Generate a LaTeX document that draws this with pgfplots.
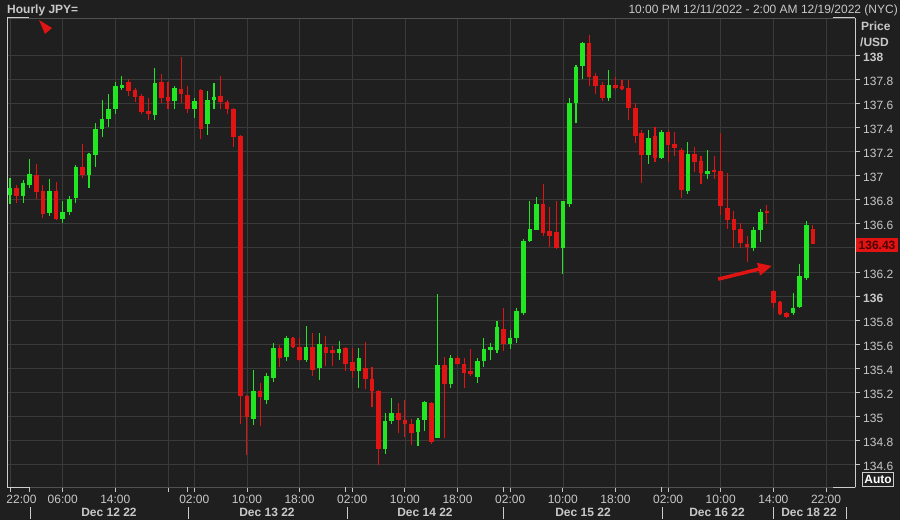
\documentclass[border=0pt]{standalone}
\usepackage{pgfplots}
\pgfplotsset{compat=1.18}
\usepackage{pgfplotstable}
\usepackage{fontspec}
\setmainfont{Liberation Sans}
\usetikzlibrary{arrows.meta}

\definecolor{bgc}{RGB}{31,31,31}
\definecolor{gridc}{RGB}{58,58,58}
\definecolor{framec}{RGB}{80,80,80}
\definecolor{lightc}{RGB}{205,205,205}
\definecolor{textc}{RGB}{200,200,200}
\definecolor{upg}{RGB}{34,230,34}
\definecolor{dnr}{RGB}{225,20,20}
\definecolor{boxtext}{RGB}{80,0,0}
\newcommand\ff{\fontsize{12}{14}\selectfont}

% hourly candles: index (hours from Dec 11 22:00 on the chart axis), open, high, low, close
\pgfplotstableread{
i o h l c
0 136.84 136.98 136.76 136.90
2 136.83 136.96 136.77 136.94
3 136.92 137.14 136.90 137.01
6 136.69 136.97 136.66 136.87
8 136.64 136.79 136.61 136.70
9 136.70 136.83 136.67 136.81
10 136.81 137.09 136.77 137.07
12 137.00 137.19 136.90 137.18
13 137.17 137.44 137.07 137.39
14 137.39 137.63 137.32 137.47
15 137.47 137.68 137.40 137.55
16 137.55 137.78 137.51 137.74
17 137.73 137.83 137.71 137.75
22 137.50 137.89 137.46 137.77
25 137.62 137.74 137.55 137.73
28 137.55 137.64 137.48 137.62
30 137.43 137.70 137.34 137.63
31 137.63 137.77 137.55 137.65
37 134.98 135.39 134.93 135.21
39 135.14 135.36 135.10 135.34
40 135.32 135.61 135.29 135.57
42 135.49 135.67 135.46 135.65
45 135.47 135.75 135.45 135.58
47 135.40 135.69 135.30 135.60
50 135.53 135.63 135.47 135.56
53 135.38 135.57 135.24 135.49
57 134.73 135.03 134.69 134.96
58 134.96 135.15 134.94 135.03
62 134.87 134.99 134.76 134.97
63 134.97 135.13 134.88 135.12
65 134.82 136.02 134.82 135.43
67 135.27 135.51 135.24 135.49
71 135.33 135.49 135.28 135.46
72 135.46 135.65 135.41 135.56
73 135.55 135.61 135.47 135.58
74 135.55 135.79 135.53 135.74
76 135.60 135.72 135.56 135.65
77 135.65 135.90 135.61 135.88
78 135.86 136.47 135.84 136.46
79 136.46 136.79 136.45 136.56
80 136.55 136.82 136.55 136.76
84 136.40 136.79 136.18 136.79
85 136.76 137.64 136.74 137.60
86 137.60 137.92 137.44 137.90
87 137.91 138.11 137.80 138.10
91 137.64 137.88 137.62 137.75
97 137.17 137.38 137.10 137.31
99 137.15 137.38 137.14 137.36
103 136.87 137.28 136.85 137.18
106 137.01 137.21 136.97 137.04
113 136.40 136.57 136.37 136.55
114 136.55 136.72 136.45 136.70
119 135.86 136.03 135.84 135.90
120 135.91 136.27 135.90 136.17
121 136.15 136.62 136.13 136.59
}\upcandles

\pgfplotstableread{
i o h l c
1 136.90 136.92 136.77 136.83
4 137.00 137.10 136.81 136.86
5 136.87 136.92 136.65 136.68
7 136.87 136.95 136.63 136.64
11 137.07 137.26 136.98 137.00
18 137.78 137.80 137.66 137.70
19 137.71 137.73 137.61 137.65
20 137.66 137.68 137.51 137.53
21 137.54 137.64 137.46 137.51
23 137.78 137.84 137.60 137.64
24 137.65 137.78 137.55 137.62
26 137.72 137.98 137.60 137.68
27 137.67 137.74 137.52 137.55
29 137.71 137.72 137.30 137.39
32 137.66 137.83 137.55 137.61
33 137.61 137.63 137.51 137.55
34 137.55 137.56 137.24 137.32
35 137.33 137.34 134.94 135.17
36 135.17 135.18 134.68 135.00
38 135.21 135.28 134.92 135.16
41 135.57 135.59 135.41 135.49
43 135.65 135.66 135.57 135.58
44 135.58 135.65 135.46 135.47
46 135.58 135.69 135.34 135.39
48 135.58 135.67 135.42 135.53
49 135.55 135.59 135.42 135.53
51 135.57 135.58 135.38 135.44
52 135.45 135.57 135.32 135.38
54 135.40 135.62 135.23 135.31
55 135.31 135.41 135.08 135.21
56 135.21 135.22 134.60 134.73
59 135.03 135.11 134.86 134.97
60 134.97 135.14 134.83 134.94
61 134.94 134.98 134.76 134.86
64 135.11 135.12 134.77 134.79
66 135.43 135.49 134.82 135.27
68 135.49 135.50 135.43 135.44
69 135.44 135.49 135.24 135.36
70 135.38 135.56 135.34 135.35
75 135.73 135.90 135.54 135.60
81 136.76 136.93 136.50 136.52
82 136.54 136.74 136.41 136.50
83 136.53 136.79 136.39 136.40
88 138.10 138.17 137.74 137.82
89 137.83 137.85 137.68 137.74
90 137.75 137.78 137.62 137.64
92 137.75 137.82 137.71 137.73
93 137.74 137.79 137.71 137.72
94 137.73 137.79 137.46 137.56
95 137.56 137.60 137.27 137.33
96 137.35 137.38 136.94 137.17
98 137.33 137.40 137.11 137.15
100 137.36 137.38 137.11 137.25
101 137.26 137.36 137.16 137.23
102 137.21 137.23 136.81 136.88
104 137.18 137.24 137.03 137.11
105 137.12 137.16 136.93 137.02
107 137.05 137.16 136.97 137.03
108 137.04 137.35 136.67 136.75
109 136.73 137.02 136.56 136.63
110 136.64 136.71 136.40 136.55
111 136.56 136.61 136.40 136.44
112 136.43 136.50 136.28 136.41
115 136.71 136.76 136.60 136.69
116 136.04 136.05 135.90 135.94
117 135.95 135.96 135.84 135.85
118 135.86 135.87 135.82 135.83
122 136.56 136.59 136.43 136.43
}\downcandles

\pgfplotsset{
  wick/.style={draw=none, forget plot, error bars/.cd, y dir=both, y explicit,
    error mark=none, error bar style={draw=#1, line width=1.1pt}},
  body/.style={draw=none, forget plot, error bars/.cd, y dir=both, y explicit,
    error mark=none, error bar style={draw=#1, line width=4.6pt}},
}

\begin{document}
\begin{tikzpicture}
\useasboundingbox (0,0) rectangle (900pt,520pt);
\fill[bgc] (0,0) rectangle (900pt,520pt);

\begin{axis}[
  at={(7pt,33pt)}, anchor=south west,
  scale only axis, width=848pt, height=469pt,
  xmin=-0.46, xmax=128.4,
  ymin=134.415, ymax=138.307,
  axis line style={draw=framec, line width=0.8pt},
  axis background/.style={fill=bgc},
  tick align=outside, major tick length=5pt,
  major tick style={draw=textc, line width=0.8pt},
  xtick pos=bottom, ytick pos=right, yticklabel pos=right,
  grid=major, major grid style={draw=gridc, line width=0.6pt},
  xtick={0,8,16,24,28,36,44,52,60,68,76,84,92,100,108,116,124},
  xticklabels={,06:00,14:00,,02:00,10:00,18:00,02:00,10:00,18:00,02:00,10:00,18:00,02:00,10:00,14:00,22:00},
  extra x ticks={3,27,51,75,99},
  extra x tick labels={},
  extra x tick style={grid=none},
  ytick={134.6,134.8,135,135.2,135.4,135.6,135.8,136,136.2,136.4,136.6,136.8,137,137.2,137.4,137.6,137.8,138},
  yticklabels={134.6,134.8,135,135.2,135.4,135.6,135.8,\textbf{136},136.2,,136.6,136.8,137,137.2,137.4,137.6,137.8,\textbf{138}},
  xticklabel style={font=\ff, text=textc, inner sep=2pt, yshift=-1pt},
  yticklabel style={font=\ff, text=textc, inner sep=0pt, xshift=3pt, yshift=-2pt},
]
\addplot[wick=upg] table[x=i, y expr={(\thisrow{h}+\thisrow{l})/2}, y error expr={(\thisrow{h}-\thisrow{l})/2}] {\upcandles};
\addplot[body=upg] table[x=i, y expr={(\thisrow{o}+\thisrow{c})/2}, y error expr={abs(\thisrow{c}-\thisrow{o})/2}] {\upcandles};
\addplot[wick=dnr] table[x=i, y expr={(\thisrow{h}+\thisrow{l})/2}, y error expr={(\thisrow{h}-\thisrow{l})/2}] {\downcandles};
\addplot[body=dnr] table[x=i, y expr={(\thisrow{o}+\thisrow{c})/2}, y error expr={abs(\thisrow{c}-\thisrow{o})/2}] {\downcandles};

% annotation arrow
\draw[dnr, line width=3.5pt, -{Triangle[length=14pt,width=12pt]}]
  (axis cs:107.6,136.14) -- (axis cs:115.8,136.25);
\end{axis}

% frame highlights
\draw[lightc, line width=1pt] (7pt,33pt) -- (7pt,502pt);
\draw[lightc, line width=1pt] (855pt,33pt) -- (855pt,502pt);
\draw[lightc, line width=1pt] (7pt,502pt) -- (29pt,502pt);
\draw[lightc, line width=1pt] (7pt,33pt) -- (30pt,33pt);
\draw[lightc, line width=1pt] (833pt,502pt) -- (855pt,502pt);
\draw[lightc, line width=1pt] (833pt,33pt) -- (855pt,33pt);

% first hour label, kept inside the page
\node[text=textc, font=\ff, inner sep=0pt] at (21.5pt,21pt) {22:00};

% header
\node[anchor=west, text=textc, font=\ff\bfseries, inner sep=0pt] at (7pt,510pt) {Hourly JPY=};
\node[anchor=east, text=textc, font=\ff, inner sep=0pt] at (898pt,510pt) {10:00 PM 12/11/2022 - 2:00 AM 12/19/2022 (NYC)};
\fill[dnr] (39pt,500pt) -- (52pt,492pt) -- (45pt,486pt) -- cycle;
\node[anchor=west, text=textc, font=\ff\bfseries, inner sep=0pt] at (861pt,494pt) {Price};
\node[anchor=west, text=textc, font=\ff\bfseries, inner sep=0pt] at (860pt,478pt) {/USD};

% last price box
\fill[dnr] (856pt,268pt) rectangle (898pt,282pt);
\node[text=boxtext, font=\ff\bfseries, inner sep=0pt] at (877pt,275pt) {136.43};

% auto box
\draw[lightc, line width=0.8pt] (862.5pt,33.5pt) rectangle (893.5pt,47.5pt);
\node[text=white, font=\ff\bfseries, inner sep=0pt] at (878pt,40.5pt) {Auto};

% day row
\foreach \xx in {30,188,347,503,662,773,846}
  \draw[lightc, line width=0.8pt] (\xx pt,1pt) -- (\xx pt,13pt);
\foreach \xx/\dd in {109/Dec 12 22,267/Dec 13 22,425/Dec 14 22,583/Dec 15 22,717/Dec 16 22,809/Dec 18 22}
  \node[text=textc, font=\ff\bfseries, inner sep=0pt] at (\xx pt,7.5pt) {\dd};
\end{tikzpicture}
\end{document}
